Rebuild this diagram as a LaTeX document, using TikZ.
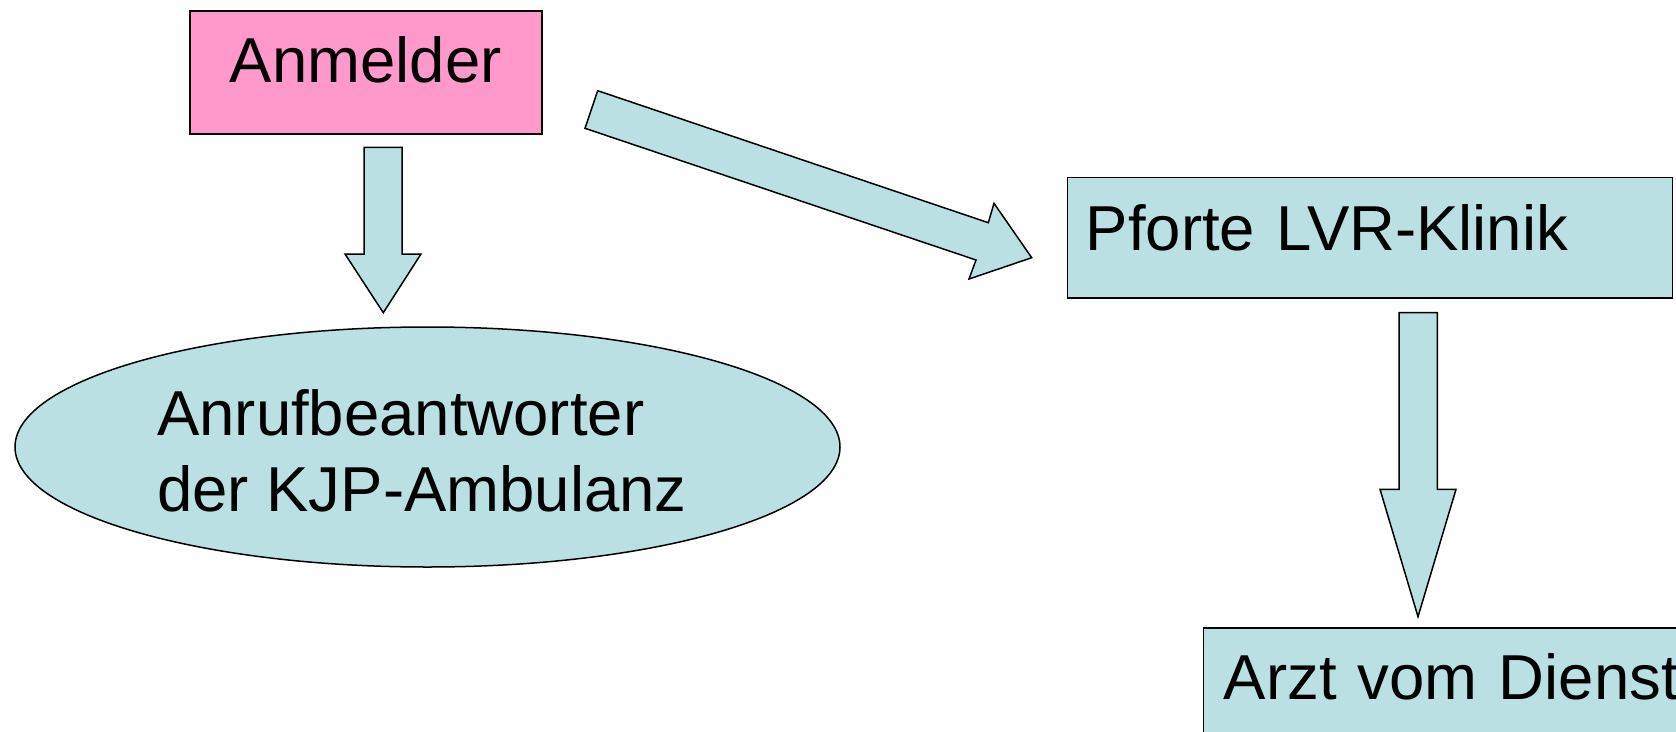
\documentclass[tikz,border=0pt]{standalone}
\usepackage{fontspec}
\setmainfont{Liberation Sans}
\usetikzlibrary{shapes.geometric}
\definecolor{pinkfill}{HTML}{FF99CC}
\definecolor{bluefill}{HTML}{BBE0E3}
\begin{document}
\begin{tikzpicture}[x=1pt,y=-1pt,
  every node/.style={font=\fontsize{63.5}{76}\selectfont},
  box/.style={draw=black, line width=1.6pt, rectangle, inner ysep=0pt, anchor=north west},
  blockarrow/.style={draw=black, line width=1.5pt, fill=bluefill, line join=miter}]
\useasboundingbox (0,0) rectangle (1676,731);
\clip (0,0) rectangle (1676,731);

% boxes
\node[box, fill=pinkfill, minimum width=352pt, inner xsep=0pt,
      text height=72pt, text depth=51pt] (anmelder) at (189,10) {Anmelder};
\node[box, fill=bluefill, inner xsep=18.3pt, text width=568.4pt, align=left,
      text height=72.6pt, text depth=48pt] (pforte) at (1066.7,176.7) {Pforte LVR-Klinik};
\node[box, fill=bluefill, inner xsep=20.3pt, text width=480pt, align=left,
      text height=71pt, text depth=70pt] (arzt) at (1202.7,627.3) {Arzt vom Dienst};
\node[draw=black, ellipse, fill=bluefill, line width=1.5pt, minimum width=825pt,
      minimum height=240pt, inner sep=0pt] (amb) at (427.5,447) {};
\node[anchor=base west, align=left, inner sep=0pt] (ambtext) at (157,511)
      {Anrufbeantworter\\der KJP-Ambulanz};

% block arrows
\draw[blockarrow] (364,147.3) -- (402,147.3) -- (402,254) -- (421,254)
   -- (383.3,312.7) -- (345,254) -- (364,254) -- cycle;
\draw[blockarrow] (597.7,90.7) -- (988.3,222.7) -- (994,203.3) -- (1031.7,257.7)
   -- (969,279) -- (976,260) -- (585,128.3) -- cycle;
\draw[blockarrow] (1399,312.7) -- (1437.3,312.7) -- (1437.3,489.3) -- (1456,489.3)
   -- (1418,616.7) -- (1380,489.3) -- (1399,489.3) -- cycle;
\end{tikzpicture}
\end{document}
